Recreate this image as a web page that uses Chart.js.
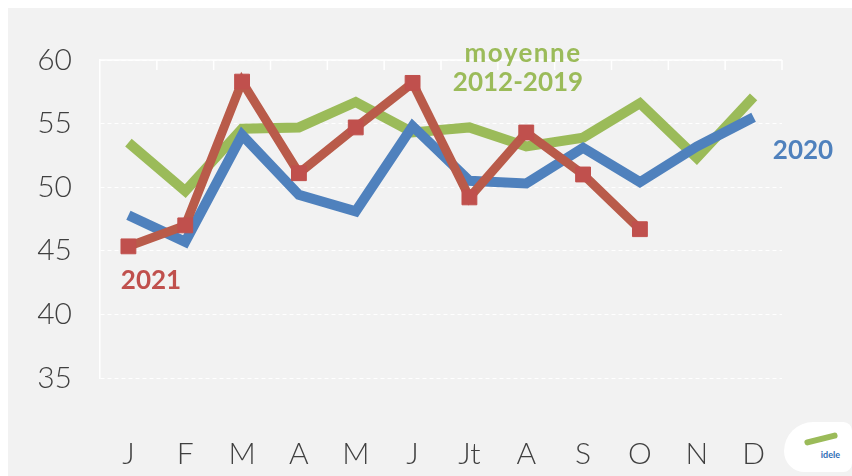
<!DOCTYPE html>
<html>
<head>
<meta charset="utf-8">
<script src="https://cdn.jsdelivr.net/npm/chart.js@4.4.1/dist/chart.umd.min.js"></script>
<style>
    body { margin: 0; background: #ffffff; }
    #wrap { position: absolute; left: 8px; top: 8px; width: 844px; height: 468px; background: #f2f2f2; }
    #logo { position: absolute; right: 0px; bottom: 4px; width: 68px; height: 50px; background: #ffffff;
            border-radius: 34px 10px 10px 24px; font: bold 9px Lato, sans-serif; color: #2f6db5; }
    #logo span { position: absolute; right: 12px; bottom: 12px; }
    #logo i { position: absolute; left: 20px; top: 14px; width: 34px; height: 6px; background: #9bbb59;
              border-radius: 3px; transform: rotate(-14deg); }
</style>
</head>
<body>
<div id="wrap">
    <canvas id="chart"></canvas>
    <div id="logo"><i></i><span>idele</span></div>
</div>
<script>
const months = ['J', 'F', 'M', 'A', 'M', 'J', 'Jt', 'A', 'S', 'O', 'N', 'D'];
const moyenne = [53.5, 49.7, 54.6, 54.7, 56.7, 54.3, 54.7, 53.2, 53.9, 56.6, 52.3, 57.1];
const y2020 = [47.8, 45.7, 54.1, 49.4, 48.1, 54.8, 50.5, 50.3, 53.1, 50.4, 53.2, 55.5];
const y2021 = [45.35, 47.0, 58.3, 51.1, 54.7, 58.2, 49.2, 54.3, 51.0, 46.7, null, null];
const yTicks = [35, 40, 45, 50, 55, 60];

// series labels drawn on the chart (canvas px)
const notes = [
    { text: 'moyenne', x: 515, y: 46, color: '#9bbb59', spacing: '1.5px' },
    { text: '2012-2019', x: 510, y: 75, color: '#9bbb59', spacing: '0px' },
    { text: '2020', x: 795, y: 143, color: '#4f81bd', spacing: '0px' },
    { text: '2021', x: 143, y: 273, color: '#c0504d', spacing: '0px' }
];

const frame = {
    id: 'frame',
    beforeDatasetsDraw(chart) {
        const ctx = chart.ctx;
        const area = chart.chartArea;
        const xs = chart.scales.x;
        ctx.save();
        ctx.strokeStyle = '#ffffff';
        ctx.lineWidth = 1.5;
        ctx.beginPath();
        ctx.moveTo(area.left, area.top);
        ctx.lineTo(area.right, area.top);
        for (let i = 0; i < months.length; i++) {
            let bx = i < months.length - 1
                ? (xs.getPixelForValue(i) + xs.getPixelForValue(i + 1)) / 2
                : area.right;
            ctx.moveTo(bx, area.top);
            ctx.lineTo(bx, area.top + 10);
        }
        ctx.stroke();
        ctx.restore();
    },
    afterDatasetsDraw(chart) {
        const ctx = chart.ctx;
        ctx.save();
        ctx.font = 'bold 26px Lato, sans-serif';
        ctx.textAlign = 'center';
        ctx.textBaseline = 'middle';
        notes.forEach(n => {
            ctx.letterSpacing = n.spacing;
            ctx.fillStyle = n.color;
            ctx.fillText(n.text, n.x, n.y);
        });
        ctx.restore();
    }
};

new Chart(document.getElementById('chart'), {
    type: 'line',
    data: {
        labels: months,
        datasets: [
            {
                label: 'moyenne 2012-2019',
                data: moyenne,
                borderColor: '#9bbb59',
                borderWidth: 10,
                pointRadius: 0,
                order: 3
            },
            {
                label: '2020',
                data: y2020,
                borderColor: '#4f81bd',
                borderWidth: 10,
                pointRadius: 0,
                order: 2
            },
            {
                label: '2021',
                data: y2021,
                borderColor: '#b95b4a',
                borderWidth: 9,
                pointStyle: 'rect',
                pointRadius: 10.5,
                pointBackgroundColor: '#c0504d',
                pointBorderColor: '#c0504d',
                pointBorderWidth: 1,
                order: 1
            }
        ]
    },
    options: {
        responsive: true,
        maintainAspectRatio: false,
        animation: false,
        layout: { padding: { top: 52, right: 70, left: 0, bottom: 0 } },
        plugins: {
            legend: { display: false },
            tooltip: { enabled: false }
        },
        scales: {
            x: {
                offset: true,
                grid: { display: false },
                border: { display: false },
                ticks: {
                    color: '#404040',
                    font: { family: 'Lato', size: 30, weight: 300 },
                    padding: 50,
                    autoSkip: false,
                    maxRotation: 0
                },
                afterFit: s => { s.height = 98; }
            },
            y: {
                min: 35,
                max: 60,
                afterBuildTicks: s => { s.ticks = yTicks.map(v => ({ value: v })); },
                grid: { color: '#ffffff', lineWidth: 1, drawTicks: false },
                border: { display: true, color: '#ffffff', width: 1.5, dash: [4, 3] },
                ticks: {
                    color: '#404040',
                    font: { family: 'Lato', size: 30, weight: 300 },
                    padding: 28
                },
                afterFit: s => { s.width = 92; }
            }
        }
    },
    plugins: [frame]
});
</script>
</body>
</html>
